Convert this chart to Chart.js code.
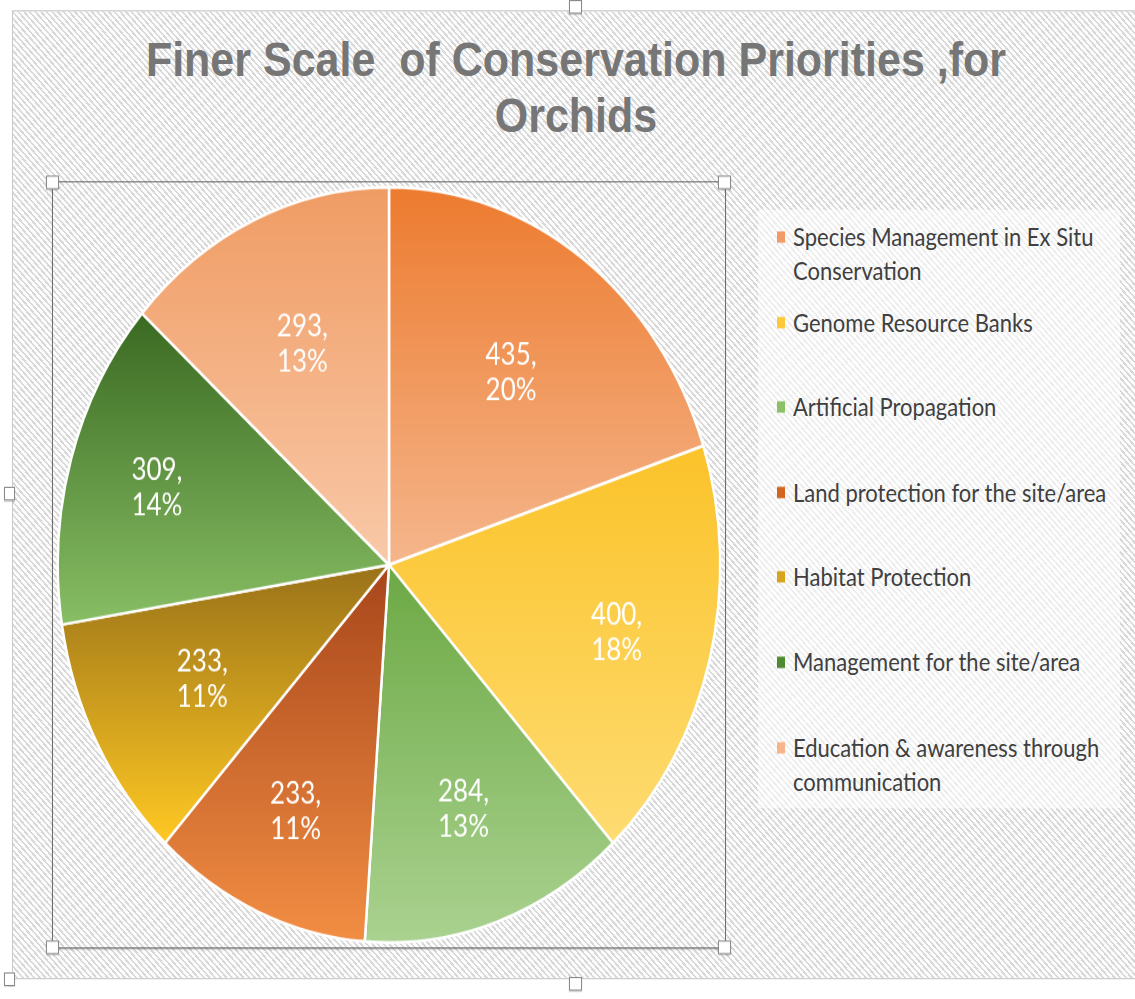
<!DOCTYPE html>
<html>
<head>
<meta charset="utf-8">
<script src="https://cdn.jsdelivr.net/npm/chart.js@4"></script>
<style>
    html, body { margin: 0; padding: 0; background: #fff; }
    body { width: 1135px; height: 999px; overflow: hidden; }

    /* whole sheet is drawn 1.14x taller than wide, like the exported image */
    #page {
        position: absolute; left: 0; top: 0;
        width: 1135px; height: 876px;
        transform: scaleY(1.14);
        transform-origin: 0 0;
    }
    .frame {
        position: absolute; left: 12px; top: 9px; width: 1140px; height: 848px;
        border: 1.5px solid #c9c9c9;
        background: repeating-linear-gradient(45deg, #fcfcfc 0px, #fcfcfc 2.4px, #d8d8d8 2.4px, #d8d8d8 4px);
    }
    .title {
        position: absolute; left: 12px; width: 1128px;
        text-align: center; white-space: pre;
        font-family: "Liberation Sans", Arial, sans-serif; font-weight: bold;
        font-size: 43px; line-height: 49px; color: #767676;
    }
    #plotBox {
        position: absolute; left: 52px; top: 159px; width: 672px; height: 671px;
        border: 1px solid #6e6e6e;
        box-shadow: 0 1px 1px rgba(0,0,0,0.15);
    }
    #plotBox canvas { position: absolute; left: 0; top: 0; }
    .handle {
        position: absolute; width: 11px; height: 10px;
        background: #fff; border: 1px solid #8a8a8a;
        box-shadow: 0 1px 1px rgba(0,0,0,0.2);
    }
    #legendBox {
        position: absolute; left: 758px; top: 184px; width: 362px; height: 525px;
        background: rgba(255,255,255,0.55);
    }
    .legend-item {
        position: absolute; left: 777px;
        font-family: Lato, "Open Sans", sans-serif; font-size: 22px;
        line-height: 30px; color: #404040;
    }
    .legend-item .text { position: absolute; left: 16px; top: 0; white-space: pre; }
    .legend-item .box { position: absolute; left: 0; top: 10px; width: 8px; height: 10px; }
</style>
</head>
<body>
<div id="page">
    <div class="frame"></div>
    <div class="handle" style="left:569px; top:0px;"></div>
    <div class="handle" style="left:4px; top:427px; width:9px;"></div>
    <div class="handle" style="left:569px; top:857px;"></div>
    <div class="handle" style="left:4px; top:853px; width:9px;"></div>

    <div class="title" id="title1" style="top:28px;"></div>
    <div class="title" id="title2" style="top:77px;"></div>

    <div id="legendBox"></div>

    <div id="plotBox">
        <canvas id="orchidPie" width="672" height="671"></canvas>
    </div>
    <div class="handle" style="left:46px; top:154px;"></div>
    <div class="handle" style="left:718px; top:154px;"></div>
    <div class="handle" style="left:46px; top:825px;"></div>
    <div class="handle" style="left:718px; top:825px;"></div>

    <div id="legend"></div>
</div>

<script>
const titleLines = ['Finer Scale  of Conservation Priorities ,for', 'Orchids'];

const categories = [
    'Species Management in Ex Situ Conservation',
    'Genome Resource Banks',
    'Artificial Propagation',
    'Land protection for the site/area',
    'Habitat Protection',
    'Management for the site/area',
    'Education & awareness through communication'
];
// how the long names wrap in the legend
const legendLines = [
    ['Species Management in Ex Situ', 'Conservation'],
    ['Genome Resource Banks'],
    ['Artificial Propagation'],
    ['Land protection for the site/area'],
    ['Habitat Protection'],
    ['Management for the site/area'],
    ['Education & awareness through', 'communication']
];
const values = [435, 400, 284, 233, 233, 309, 293];

// each slice fades from the darker colour at its top to the lighter one at its bottom
const topColors    = ['#ED7B2F', '#FBC32A', '#6CA944', '#A8461B', '#9A7219', '#3A6A22', '#F09C64'];
const bottomColors = ['#F5B68C', '#FEDC72', '#AAD290', '#F28E43', '#FFC923', '#88BE64', '#F9C9A8'];
const swatchColors = ['#F19C66', '#FCC93A', '#8BC168', '#D2661F', '#D7A51D', '#4E8A31', '#F6B48A'];

// how far out along the radius each value label sits
const labelDepth = [0.63, 0.71, 0.685, 0.71, 0.64, 0.73, 0.64];

const total = values.reduce((a, b) => a + b, 0);

document.getElementById('title1').textContent = titleLines[0];
document.getElementById('title2').textContent = titleLines[1];

// legend rows, 74.6px apart
const legend = document.getElementById('legend');
legendLines.forEach((lines, i) => {
    const item = document.createElement('div');
    item.className = 'legend-item';
    item.style.top = (193 + i * 74.6) + 'px';
    const box = document.createElement('div');
    box.className = 'box';
    box.style.background = swatchColors[i];
    const text = document.createElement('div');
    text.className = 'text';
    text.textContent = lines.join('\n');
    item.appendChild(box);
    item.appendChild(text);
    legend.appendChild(item);
});

function sliceFill(context) {
    const i = context.dataIndex;
    const chart = context.chart;
    const area = chart.chartArea;
    if (context.type !== 'data' || !area) return topColors[i || 0];

    const meta = chart.getDatasetMeta(0);
    const r = meta.controller.outerRadius || Math.min(area.width, area.height) / 2;
    const cy = (area.top + area.bottom) / 2;

    let before = 0;
    for (let k = 0; k < i; k++) before += values[k];
    const a0 = before / total * 2 * Math.PI;
    const a1 = (before + values[i]) / total * 2 * Math.PI;

    // vertical extent of the wedge
    const ys = [cy, cy - r * Math.cos(a0), cy - r * Math.cos(a1)];
    if (a0 <= 0) ys.push(cy - r);
    if (a0 < Math.PI && a1 > Math.PI) ys.push(cy + r);

    const g = chart.ctx.createLinearGradient(0, Math.min(...ys), 0, Math.max(...ys));
    g.addColorStop(0, topColors[i]);
    g.addColorStop(1, bottomColors[i]);
    return g;
}

// "value,\npercent" written inside every slice
const sliceLabels = {
    id: 'sliceLabels',
    afterDatasetsDraw(chart) {
        const ctx = chart.ctx;
        const meta = chart.getDatasetMeta(0);
        ctx.save();
        ctx.fillStyle = '#ffffff';
        ctx.font = '26px Lato, "Open Sans", sans-serif';
        ctx.textAlign = 'center';
        ctx.textBaseline = 'middle';
        meta.data.forEach((arc, i) => {
            const mid = (arc.startAngle + arc.endAngle) / 2;
            const d = arc.outerRadius * labelDepth[i];
            const x = arc.x + Math.cos(mid) * d;
            const y = arc.y + Math.sin(mid) * d;
            const pct = Math.round(values[i] / total * 100);
            ctx.fillText(values[i] + ',', x, y - 15);
            ctx.fillText(pct + '%', x, y + 16);
        });
        ctx.restore();
    }
};

new Chart(document.getElementById('orchidPie'), {
    type: 'pie',
    data: {
        labels: categories,
        datasets: [{
            data: values,
            backgroundColor: sliceFill,
            borderColor: '#ffffff',
            borderWidth: 2.5
        }]
    },
    options: {
        responsive: false,
        animation: false,
        events: [],
        layout: { padding: 3 },
        plugins: {
            legend: { display: false },
            title: { display: false },
            tooltip: { enabled: false }
        }
    },
    plugins: [sliceLabels]
});
</script>
</body>
</html>
